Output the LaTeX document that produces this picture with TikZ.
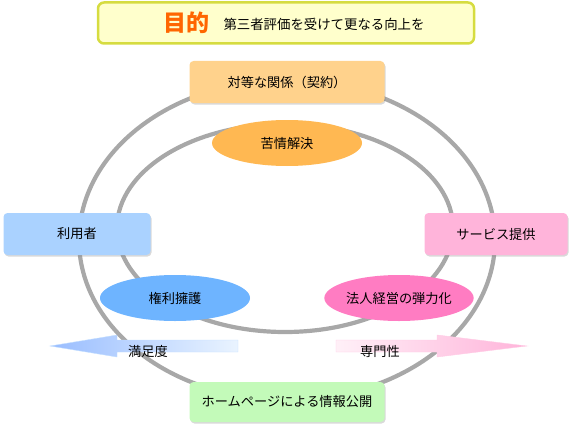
\documentclass[tikz,border=0pt]{standalone}
\usepackage{fontspec}
\setmainfont{Noto Sans CJK JP}
\usetikzlibrary{shapes.geometric,shadows}
\definecolor{ringgray}{RGB}{168,168,168}
\definecolor{titlefill}{RGB}{255,255,204}
\definecolor{titleline}{RGB}{214,220,64}
\definecolor{titleorange}{RGB}{255,102,0}
\definecolor{topfill}{RGB}{255,210,140}
\definecolor{kujofill}{RGB}{255,184,82}
\definecolor{userfill}{RGB}{170,210,255}
\definecolor{servfill}{RGB}{255,180,218}
\definecolor{kenrifill}{RGB}{110,180,255}
\definecolor{hojinfill}{RGB}{255,124,194}
\definecolor{hpfill}{RGB}{195,250,185}
\begin{document}
\begin{tikzpicture}[x=1pt,y=-1pt,font=\fontsize{13.2}{15}\selectfont,
    ring/.style={draw=ringgray,line width=4.2pt},
    box/.style={rounded corners=4pt,minimum height=42pt,
      drop shadow={opacity=0.3,shadow xshift=1pt,shadow yshift=-1.5pt}},
    oval/.style={ellipse,minimum width=150pt,minimum height=46pt,inner sep=0pt}]
    \useasboundingbox (0,0) rectangle (575,428);

    % the two rings
    \draw[ring] (287,240) ellipse [x radius=208, y radius=160];
    \draw[ring] (285,228) ellipse [x radius=168, y radius=104];

    % title
    \node[draw=titleline,fill=titlefill,line width=2.5pt,rounded corners=6pt,
      minimum width=376pt,minimum height=41pt] (goal) at (286,23) {};
    \node[text=titleorange,font=\fontsize{23}{26}\bfseries] (goalword) at (186,23) {目的};
    \node[font=\fontsize{13.4}{15}\selectfont] (goaltext) at (324,24) {第三者評価を受けて更なる向上を};

    % boxes
    \node[box,fill=topfill,minimum width=195pt] (contract) at (287,82) {対等な関係（契約）};
    \node[box,fill=userfill,minimum width=147pt] (user) at (77,234) {利用者};
    \node[box,fill=servfill,minimum width=143pt] (service) at (496,234) {サービス提供};
    \node[box,fill=hpfill,minimum width=195pt,minimum height=40pt] (hp) at (287,402) {ホームページによる情報公開};

    % ellipses
    \node[oval,fill=kujofill] (kujo) at (287,143) {苦情解決};
    \node[oval,fill=kenrifill] (kenri) at (175,298) {権利擁護};
    \node[oval,fill=hojinfill,minimum width=148pt] (hojin) at (399,298) {法人経営の弾力化};

    % arrows
    \shade[left color=userfill!90!blue,right color=userfill!25,draw=userfill!70]
      (50,346) -- (117,335) -- (117,340) -- (238,340) -- (238,352)
      -- (117,352) -- (117,357) -- cycle;
    \node (manzoku) at (148,351) {満足度};
    \shade[left color=servfill!20,right color=servfill,draw=servfill!70]
      (336,340) -- (437,340) -- (437,335) -- (527,346) -- (437,357)
      -- (437,352) -- (336,352) -- cycle;
    \node (senmon) at (380,351) {専門性};
\end{tikzpicture}
\end{document}
